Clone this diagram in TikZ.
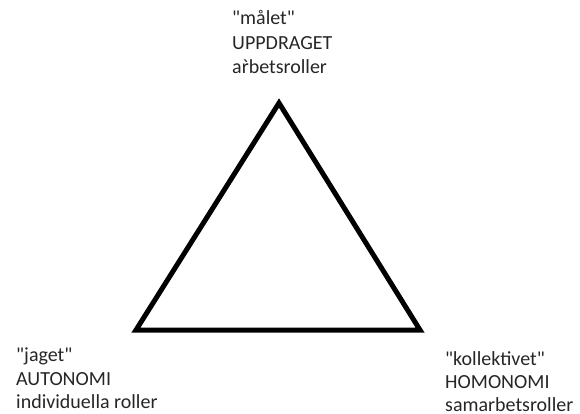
\documentclass[tikz,border=0pt]{standalone}
\usepackage{fontspec}
\setmainfont{Carlito}[Ligatures=TeXOff]
\begin{document}
\begin{tikzpicture}[x=1pt,y=-1pt,
  lbl/.style={anchor=base west,inner sep=0pt,font=\fontsize{20}{24}\selectfont,text=black!85},
  edge/.style={line width=5pt,line join=miter,draw=black}]
\useasboundingbox (0,0) rectangle (580,414);
\coordinate (apex) at (279,103);
\coordinate (bl) at (136,330);
\coordinate (br) at (420,330);
\draw[edge] (apex) -- (bl) -- (br) -- cycle;
% top
\node[lbl] (t1) at (232,25) {"målet"};
\node[lbl] (t2) at (232,50) {UPPDRAGET};
\node[lbl] (t3) at (232,74) {a\accent"0060 rbetsroller};
% left
\node[lbl] (l1) at (16,361) {"jaget"};
\node[lbl] (l2) at (16,385) {AUTONOMI};
\node[lbl] (l3) at (16,408) {individuella roller};
% right
\node[lbl] (r1) at (445,365) {"kollektivet"};
\node[lbl] (r2) at (445,388) {HOMONOMI};
\node[lbl] (r3) at (445,411) {samarbetsroller};
\end{tikzpicture}
\end{document}
